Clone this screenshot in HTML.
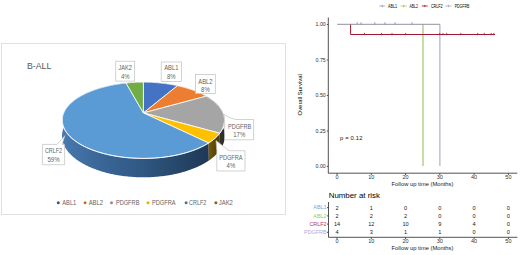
<!DOCTYPE html>
<html><head><meta charset="utf-8">
<style>
html,body{margin:0;padding:0;background:#fff;}
body{width:520px;height:255px;overflow:hidden;}
svg{display:block;}
text{font-family:"Liberation Sans",sans-serif;}
</style></head>
<body>
<svg width="520" height="255" viewBox="0 0 520 255">
<defs>
<linearGradient id="gCR" x1="62" y1="0" x2="210" y2="0" gradientUnits="userSpaceOnUse">
<stop offset="0" stop-color="#4878AE"/><stop offset="0.25" stop-color="#3A6797"/><stop offset="0.51" stop-color="#305A86"/><stop offset="0.74" stop-color="#284A6E"/><stop offset="1" stop-color="#1E3755"/>
</linearGradient>
<linearGradient id="gPA" x1="207" y1="0" x2="219" y2="0" gradientUnits="userSpaceOnUse">
<stop offset="0" stop-color="#7A5E08"/><stop offset="1" stop-color="#4E3C02"/>
</linearGradient>
<linearGradient id="gPB" x1="215" y1="0" x2="225" y2="0" gradientUnits="userSpaceOnUse">
<stop offset="0" stop-color="#3C3C3C"/><stop offset="1" stop-color="#2A2A2A"/>
</linearGradient>
</defs>
<rect x="0" y="0" width="520" height="255" fill="#fff"/>
<!-- pie chart frame -->
<rect x="1.5" y="43.5" width="284" height="171" fill="#fff" stroke="#E0E0E0" stroke-width="1"/>
<text x="26.9" y="69.4" font-size="8.8" fill="#595959" textLength="24.4" lengthAdjust="spacingAndGlyphs">B-ALL</text>
<g id="pie">
<polygon points="126.05,83.04 127.19,82.93 128.34,82.82 129.49,82.73 130.64,82.63 131.79,82.55 132.95,82.48 134.11,82.41 135.26,82.35 136.42,82.30 137.58,82.26 138.75,82.22 139.91,82.20 141.07,82.18 142.24,82.16 143.40,82.16 143.40,94.70 142.23,94.70 141.07,94.72 139.90,94.74 138.74,94.77 137.57,94.81 136.41,94.85 135.24,94.91 134.08,94.97 132.92,95.04 131.76,95.12 130.61,95.21 129.45,95.31 128.30,95.42 127.15,95.53 126.00,95.65" fill="#4E7A32"/>
<polygon points="143.40,82.16 144.56,82.16 145.73,82.18 146.89,82.20 148.05,82.22 149.22,82.26 150.38,82.30 151.54,82.35 152.69,82.41 153.85,82.48 155.01,82.55 156.16,82.63 157.31,82.73 158.46,82.82 159.61,82.93 160.75,83.04 161.90,83.16 163.03,83.29 164.17,83.43 165.30,83.58 166.43,83.73 167.56,83.89 168.68,84.06 169.79,84.23 170.91,84.42 172.02,84.61 173.12,84.81 174.22,85.02 175.31,85.23 176.40,85.46 177.48,85.69 177.57,98.51 176.48,98.27 175.39,98.02 174.30,97.79 173.19,97.57 172.09,97.35 170.98,97.14 169.86,96.94 168.74,96.75 167.62,96.57 166.49,96.40 165.36,96.23 164.22,96.07 163.08,95.93 161.94,95.79 160.80,95.65 159.65,95.53 158.50,95.42 157.35,95.31 156.19,95.21 155.04,95.12 153.88,95.04 152.72,94.97 151.56,94.91 150.39,94.85 149.23,94.81 148.06,94.77 146.90,94.74 145.73,94.72 144.57,94.70 143.40,94.70" fill="#2F4F88"/>
<polygon points="177.48,85.69 178.56,85.93 179.63,86.17 180.69,86.43 181.75,86.69 182.80,86.96 183.85,87.24 184.89,87.52 185.92,87.81 186.94,88.11 187.95,88.42 188.96,88.74 189.96,89.06 190.95,89.39 191.93,89.73 192.90,90.08 193.87,90.43 194.82,90.79 195.77,91.16 196.70,91.54 197.62,91.92 198.54,92.32 199.44,92.72 200.33,93.12 201.21,93.54 202.08,93.96 202.94,94.39 203.79,94.82 204.62,95.26 205.44,95.72 206.25,96.17 206.42,109.86 205.61,109.37 204.79,108.88 203.95,108.40 203.10,107.93 202.24,107.46 201.37,107.01 200.49,106.56 199.59,106.12 198.68,105.69 197.77,105.26 196.84,104.85 195.90,104.44 194.96,104.04 194.00,103.65 193.03,103.27 192.06,102.89 191.07,102.53 190.08,102.17 189.08,101.82 188.07,101.47 187.05,101.14 186.03,100.82 184.99,100.50 183.95,100.19 182.90,99.89 181.85,99.60 180.79,99.31 179.72,99.04 178.65,98.77 177.57,98.51" fill="#A65722"/>
<polygon points="206.25,96.17 207.04,96.64 207.82,97.11 208.59,97.59 209.34,98.07 210.08,98.57 210.81,99.06 211.52,99.57 212.21,100.08 212.89,100.60 213.55,101.13 214.20,101.66 214.83,102.20 215.44,102.75 216.04,103.30 216.62,103.86 217.18,104.42 217.72,104.99 218.25,105.57 218.75,106.15 219.24,106.74 219.71,107.33 220.16,107.93 220.58,108.53 220.99,109.14 221.38,109.75 221.75,110.37 222.09,111.00 222.42,111.63 222.72,112.26 223.00,112.90 223.26,113.54 223.49,114.19 223.71,114.84 223.89,115.49 224.06,116.15 224.20,116.82 224.32,117.48 224.41,118.15 224.48,118.82 224.52,119.49 224.54,120.17 224.53,120.85 224.49,121.53 224.43,122.21 224.35,122.90 224.23,123.59 224.09,124.27 223.93,124.96 223.73,125.65 223.51,126.34 223.26,127.03 222.98,127.72 222.67,128.41 222.34,129.10 221.98,129.79 221.58,130.48 221.16,131.17 220.72,131.85 220.24,132.53 219.73,133.22 219.98,149.97 220.49,149.24 220.97,148.49 221.42,147.75 221.84,147.01 222.23,146.26 222.60,145.52 222.93,144.77 223.24,144.02 223.51,143.27 223.76,142.53 223.99,141.78 224.18,141.03 224.35,140.29 224.49,139.54 224.60,138.80 224.69,138.05 224.75,137.31 224.78,136.58 224.79,135.84 224.77,135.11 224.73,134.38 224.66,133.65 224.57,132.93 224.45,132.21 224.30,131.49 224.14,130.78 223.95,130.07 223.73,129.36 223.50,128.66 223.24,127.97 222.96,127.28 222.65,126.59 222.33,125.91 221.98,125.23 221.61,124.56 221.22,123.90 220.81,123.24 220.38,122.58 219.93,121.94 219.46,121.29 218.97,120.66 218.46,120.03 217.93,119.40 217.39,118.79 216.82,118.18 216.24,117.57 215.64,116.98 215.03,116.39 214.40,115.80 213.75,115.23 213.08,114.66 212.40,114.09 211.70,113.54 210.99,112.99 210.27,112.45 209.52,111.92 208.77,111.39 208.00,110.87 207.22,110.36 206.42,109.86" fill="url(#gPB)"/>
<polygon points="208.62,142.97 207.65,143.57 206.65,144.17 205.62,144.76 204.57,145.34 203.48,145.91 202.37,146.47 201.24,147.03 200.07,147.57 198.89,148.11 197.67,148.63 196.43,149.14 195.16,149.65 193.88,150.14 192.56,150.62 191.22,151.09 189.86,151.54 188.48,151.99 187.08,152.42 185.65,152.84 184.21,153.24 182.74,153.63 181.25,154.01 179.75,154.37 178.23,154.72 176.69,155.06 175.13,155.38 173.55,155.68 171.97,155.97 170.36,156.25 168.75,156.51 167.12,156.75 165.47,156.98 163.82,157.19 162.16,157.38 160.48,157.56 158.80,157.72 157.11,157.87 155.41,157.99 153.71,158.11 152.00,158.20 150.28,158.28 148.57,158.34 146.85,158.38 145.12,158.41 143.40,158.41 141.68,158.41 139.95,158.38 138.23,158.34 136.52,158.28 134.80,158.20 133.09,158.11 131.39,157.99 129.69,157.87 128.00,157.72 126.32,157.56 124.64,157.38 122.98,157.19 121.33,156.98 119.68,156.75 118.05,156.51 116.44,156.25 114.83,155.97 113.25,155.68 111.67,155.38 110.11,155.06 108.57,154.72 107.05,154.37 105.55,154.01 104.06,153.63 102.59,153.24 101.15,152.84 99.72,152.42 98.32,151.99 96.94,151.54 95.58,151.09 94.24,150.62 92.92,150.14 91.64,149.65 90.37,149.14 89.13,148.63 87.91,148.11 86.73,147.57 85.56,147.03 84.43,146.47 83.32,145.91 82.23,145.34 81.18,144.76 80.15,144.17 79.15,143.57 78.18,142.97 77.24,142.36 76.32,141.74 75.43,141.11 74.58,140.48 73.75,139.84 72.95,139.20 72.18,138.55 71.44,137.90 70.73,137.24 70.04,136.58 69.39,135.91 68.77,135.24 68.17,134.57 67.61,133.89 67.07,133.22 66.56,132.53 66.08,131.85 65.64,131.17 65.22,130.48 64.82,129.79 64.46,129.10 64.13,128.41 63.82,127.72 63.54,127.03 63.29,126.34 63.07,125.65 62.87,124.96 62.71,124.27 62.57,123.59 62.45,122.90 62.37,122.21 62.31,121.53 62.27,120.85 62.26,120.17 62.28,119.49 62.32,118.82 62.39,118.15 62.48,117.48 62.60,116.82 62.74,116.15 62.91,115.49 63.09,114.84 63.31,114.19 63.54,113.54 63.80,112.90 64.08,112.26 64.38,111.63 64.71,111.00 65.05,110.37 65.42,109.75 65.81,109.14 66.22,108.53 66.64,107.93 67.09,107.33 67.56,106.74 68.05,106.15 68.55,105.57 69.08,104.99 69.62,104.42 70.18,103.86 70.76,103.30 71.36,102.75 71.97,102.20 72.60,101.66 73.25,101.13 73.91,100.60 74.59,100.08 75.28,99.57 75.99,99.06 76.72,98.57 77.46,98.07 78.21,97.59 78.98,97.11 79.76,96.64 80.55,96.17 81.36,95.72 82.18,95.26 83.01,94.82 83.86,94.39 84.72,93.96 85.59,93.54 86.47,93.12 87.36,92.72 88.26,92.32 89.18,91.92 90.10,91.54 91.03,91.16 91.98,90.79 92.93,90.43 93.90,90.08 94.87,89.73 95.85,89.39 96.84,89.06 97.84,88.74 98.85,88.42 99.86,88.11 100.88,87.81 101.91,87.52 102.95,87.24 104.00,86.96 105.05,86.69 106.11,86.43 107.17,86.17 108.24,85.93 109.32,85.69 110.40,85.46 111.49,85.23 112.58,85.02 113.68,84.81 114.78,84.61 115.89,84.42 117.01,84.23 118.12,84.06 119.24,83.89 120.37,83.73 121.50,83.58 122.63,83.43 123.77,83.29 124.90,83.16 126.05,83.04 126.00,95.65 124.86,95.79 123.72,95.93 122.58,96.07 121.44,96.23 120.31,96.40 119.18,96.57 118.06,96.75 116.94,96.94 115.82,97.14 114.71,97.35 113.61,97.57 112.50,97.79 111.41,98.02 110.32,98.27 109.23,98.51 108.15,98.77 107.08,99.04 106.01,99.31 104.95,99.60 103.90,99.89 102.85,100.19 101.81,100.50 100.77,100.82 99.75,101.14 98.73,101.47 97.72,101.82 96.72,102.17 95.73,102.53 94.74,102.89 93.77,103.27 92.80,103.65 91.84,104.04 90.90,104.44 89.96,104.85 89.03,105.26 88.12,105.69 87.21,106.12 86.31,106.56 85.43,107.01 84.56,107.46 83.70,107.93 82.85,108.40 82.01,108.88 81.19,109.37 80.38,109.86 79.58,110.36 78.80,110.87 78.03,111.39 77.28,111.92 76.53,112.45 75.81,112.99 75.10,113.54 74.40,114.09 73.72,114.66 73.05,115.23 72.40,115.80 71.77,116.39 71.16,116.98 70.56,117.57 69.98,118.18 69.41,118.79 68.87,119.40 68.34,120.03 67.83,120.66 67.34,121.29 66.87,121.94 66.42,122.58 65.99,123.24 65.58,123.90 65.19,124.56 64.82,125.23 64.47,125.91 64.15,126.59 63.84,127.28 63.56,127.97 63.30,128.66 63.07,129.36 62.85,130.07 62.66,130.78 62.50,131.49 62.35,132.21 62.23,132.93 62.14,133.65 62.07,134.38 62.03,135.11 62.01,135.84 62.02,136.58 62.05,137.31 62.11,138.05 62.20,138.80 62.31,139.54 62.45,140.29 62.62,141.03 62.81,141.78 63.04,142.53 63.29,143.27 63.56,144.02 63.87,144.77 64.20,145.52 64.57,146.26 64.96,147.01 65.38,147.75 65.83,148.49 66.31,149.24 66.82,149.97 67.35,150.71 67.92,151.44 68.52,152.17 69.14,152.90 69.80,153.62 70.48,154.33 71.19,155.05 71.94,155.76 72.71,156.46 73.51,157.15 74.34,157.85 75.20,158.53 76.09,159.21 77.01,159.88 77.95,160.54 78.93,161.20 79.93,161.84 80.96,162.48 82.02,163.11 83.10,163.73 84.22,164.34 85.36,164.94 86.53,165.53 87.72,166.11 88.94,166.68 90.18,167.24 91.45,167.78 92.74,168.31 94.06,168.83 95.40,169.34 96.77,169.84 98.15,170.32 99.56,170.79 100.99,171.24 102.45,171.68 103.92,172.10 105.41,172.51 106.92,172.91 108.45,173.28 109.99,173.65 111.56,173.99 113.13,174.33 114.73,174.64 116.34,174.94 117.96,175.22 119.60,175.48 121.25,175.73 122.90,175.96 124.58,176.17 126.25,176.36 127.94,176.53 129.64,176.69 131.34,176.83 133.06,176.95 134.77,177.05 136.49,177.14 138.22,177.20 139.94,177.25 141.67,177.28 143.40,177.29 145.13,177.28 146.86,177.25 148.58,177.20 150.31,177.14 152.03,177.05 153.74,176.95 155.46,176.83 157.16,176.69 158.86,176.53 160.55,176.36 162.22,176.17 163.90,175.96 165.55,175.73 167.20,175.48 168.84,175.22 170.46,174.94 172.07,174.64 173.67,174.33 175.24,173.99 176.81,173.65 178.35,173.28 179.88,172.91 181.39,172.51 182.88,172.10 184.35,171.68 185.81,171.24 187.24,170.79 188.65,170.32 190.03,169.84 191.40,169.34 192.74,168.83 194.06,168.31 195.35,167.78 196.62,167.24 197.86,166.68 199.08,166.11 200.27,165.53 201.44,164.94 202.58,164.34 203.70,163.73 204.78,163.11 205.84,162.48 206.87,161.84 207.87,161.20 208.85,160.54" fill="url(#gCR)"/>
<polygon points="219.73,133.22 219.19,133.89 218.63,134.57 218.03,135.24 217.41,135.91 216.76,136.58 216.07,137.24 215.36,137.90 214.62,138.55 213.85,139.20 213.05,139.84 212.22,140.48 211.37,141.11 210.48,141.74 209.56,142.36 208.62,142.97 208.85,160.54 209.79,159.88 210.71,159.21 211.60,158.53 212.46,157.85 213.29,157.15 214.09,156.46 214.86,155.76 215.61,155.05 216.32,154.33 217.00,153.62 217.66,152.90 218.28,152.17 218.88,151.44 219.45,150.71 219.98,149.97" fill="url(#gPA)"/>
<polygon points="143.40,112.90 143.40,82.16 144.56,82.16 145.73,82.18 146.89,82.20 148.05,82.22 149.22,82.26 150.38,82.30 151.54,82.35 152.69,82.41 153.85,82.48 155.01,82.55 156.16,82.63 157.31,82.73 158.46,82.82 159.61,82.93 160.75,83.04 161.90,83.16 163.03,83.29 164.17,83.43 165.30,83.58 166.43,83.73 167.56,83.89 168.68,84.06 169.79,84.23 170.91,84.42 172.02,84.61 173.12,84.81 174.22,85.02 175.31,85.23 176.40,85.46 177.48,85.69" fill="#4472C4" stroke="#fff" stroke-width="0.8" stroke-linejoin="round"/>
<polygon points="143.40,112.90 177.48,85.69 178.56,85.93 179.63,86.17 180.69,86.43 181.75,86.69 182.80,86.96 183.85,87.24 184.89,87.52 185.92,87.81 186.94,88.11 187.95,88.42 188.96,88.74 189.96,89.06 190.95,89.39 191.93,89.73 192.90,90.08 193.87,90.43 194.82,90.79 195.77,91.16 196.70,91.54 197.62,91.92 198.54,92.32 199.44,92.72 200.33,93.12 201.21,93.54 202.08,93.96 202.94,94.39 203.79,94.82 204.62,95.26 205.44,95.72 206.25,96.17" fill="#ED7D31" stroke="#fff" stroke-width="0.8" stroke-linejoin="round"/>
<polygon points="143.40,112.90 206.25,96.17 207.04,96.64 207.82,97.11 208.59,97.59 209.34,98.07 210.08,98.57 210.81,99.06 211.52,99.57 212.21,100.08 212.89,100.60 213.55,101.13 214.20,101.66 214.83,102.20 215.44,102.75 216.04,103.30 216.62,103.86 217.18,104.42 217.72,104.99 218.25,105.57 218.75,106.15 219.24,106.74 219.71,107.33 220.16,107.93 220.58,108.53 220.99,109.14 221.38,109.75 221.75,110.37 222.09,111.00 222.42,111.63 222.72,112.26 223.00,112.90 223.26,113.54 223.49,114.19 223.71,114.84 223.89,115.49 224.06,116.15 224.20,116.82 224.32,117.48 224.41,118.15 224.48,118.82 224.52,119.49 224.54,120.17 224.53,120.85 224.49,121.53 224.43,122.21 224.35,122.90 224.23,123.59 224.09,124.27 223.93,124.96 223.73,125.65 223.51,126.34 223.26,127.03 222.98,127.72 222.67,128.41 222.34,129.10 221.98,129.79 221.58,130.48 221.16,131.17 220.72,131.85 220.24,132.53 219.73,133.22" fill="#A5A5A5" stroke="#fff" stroke-width="0.8" stroke-linejoin="round"/>
<polygon points="143.40,112.90 219.73,133.22 219.19,133.89 218.63,134.57 218.03,135.24 217.41,135.91 216.76,136.58 216.07,137.24 215.36,137.90 214.62,138.55 213.85,139.20 213.05,139.84 212.22,140.48 211.37,141.11 210.48,141.74 209.56,142.36 208.62,142.97" fill="#FFC000" stroke="#fff" stroke-width="0.8" stroke-linejoin="round"/>
<polygon points="143.40,112.90 208.62,142.97 207.65,143.57 206.65,144.17 205.62,144.76 204.57,145.34 203.48,145.91 202.37,146.47 201.24,147.03 200.07,147.57 198.89,148.11 197.67,148.63 196.43,149.14 195.16,149.65 193.88,150.14 192.56,150.62 191.22,151.09 189.86,151.54 188.48,151.99 187.08,152.42 185.65,152.84 184.21,153.24 182.74,153.63 181.25,154.01 179.75,154.37 178.23,154.72 176.69,155.06 175.13,155.38 173.55,155.68 171.97,155.97 170.36,156.25 168.75,156.51 167.12,156.75 165.47,156.98 163.82,157.19 162.16,157.38 160.48,157.56 158.80,157.72 157.11,157.87 155.41,157.99 153.71,158.11 152.00,158.20 150.28,158.28 148.57,158.34 146.85,158.38 145.12,158.41 143.40,158.41 141.68,158.41 139.95,158.38 138.23,158.34 136.52,158.28 134.80,158.20 133.09,158.11 131.39,157.99 129.69,157.87 128.00,157.72 126.32,157.56 124.64,157.38 122.98,157.19 121.33,156.98 119.68,156.75 118.05,156.51 116.44,156.25 114.83,155.97 113.25,155.68 111.67,155.38 110.11,155.06 108.57,154.72 107.05,154.37 105.55,154.01 104.06,153.63 102.59,153.24 101.15,152.84 99.72,152.42 98.32,151.99 96.94,151.54 95.58,151.09 94.24,150.62 92.92,150.14 91.64,149.65 90.37,149.14 89.13,148.63 87.91,148.11 86.73,147.57 85.56,147.03 84.43,146.47 83.32,145.91 82.23,145.34 81.18,144.76 80.15,144.17 79.15,143.57 78.18,142.97 77.24,142.36 76.32,141.74 75.43,141.11 74.58,140.48 73.75,139.84 72.95,139.20 72.18,138.55 71.44,137.90 70.73,137.24 70.04,136.58 69.39,135.91 68.77,135.24 68.17,134.57 67.61,133.89 67.07,133.22 66.56,132.53 66.08,131.85 65.64,131.17 65.22,130.48 64.82,129.79 64.46,129.10 64.13,128.41 63.82,127.72 63.54,127.03 63.29,126.34 63.07,125.65 62.87,124.96 62.71,124.27 62.57,123.59 62.45,122.90 62.37,122.21 62.31,121.53 62.27,120.85 62.26,120.17 62.28,119.49 62.32,118.82 62.39,118.15 62.48,117.48 62.60,116.82 62.74,116.15 62.91,115.49 63.09,114.84 63.31,114.19 63.54,113.54 63.80,112.90 64.08,112.26 64.38,111.63 64.71,111.00 65.05,110.37 65.42,109.75 65.81,109.14 66.22,108.53 66.64,107.93 67.09,107.33 67.56,106.74 68.05,106.15 68.55,105.57 69.08,104.99 69.62,104.42 70.18,103.86 70.76,103.30 71.36,102.75 71.97,102.20 72.60,101.66 73.25,101.13 73.91,100.60 74.59,100.08 75.28,99.57 75.99,99.06 76.72,98.57 77.46,98.07 78.21,97.59 78.98,97.11 79.76,96.64 80.55,96.17 81.36,95.72 82.18,95.26 83.01,94.82 83.86,94.39 84.72,93.96 85.59,93.54 86.47,93.12 87.36,92.72 88.26,92.32 89.18,91.92 90.10,91.54 91.03,91.16 91.98,90.79 92.93,90.43 93.90,90.08 94.87,89.73 95.85,89.39 96.84,89.06 97.84,88.74 98.85,88.42 99.86,88.11 100.88,87.81 101.91,87.52 102.95,87.24 104.00,86.96 105.05,86.69 106.11,86.43 107.17,86.17 108.24,85.93 109.32,85.69 110.40,85.46 111.49,85.23 112.58,85.02 113.68,84.81 114.78,84.61 115.89,84.42 117.01,84.23 118.12,84.06 119.24,83.89 120.37,83.73 121.50,83.58 122.63,83.43 123.77,83.29 124.90,83.16 126.05,83.04" fill="#5B9BD5" stroke="#fff" stroke-width="0.8" stroke-linejoin="round"/>
<polygon points="143.40,112.90 126.05,83.04 127.19,82.93 128.34,82.82 129.49,82.73 130.64,82.63 131.79,82.55 132.95,82.48 134.11,82.41 135.26,82.35 136.42,82.30 137.58,82.26 138.75,82.22 139.91,82.20 141.07,82.18 142.24,82.16 143.40,82.16" fill="#70AD47" stroke="#fff" stroke-width="0.8" stroke-linejoin="round"/>
<polyline points="224.52,119.49 224.54,120.17 224.53,120.85 224.49,121.53 224.43,122.21 224.35,122.90 224.23,123.59 224.09,124.27 223.93,124.96 223.73,125.65 223.51,126.34 223.26,127.03 222.98,127.72 222.67,128.41 222.34,129.10 221.98,129.79 221.58,130.48 221.16,131.17 220.72,131.85 220.24,132.53 219.73,133.22 219.19,133.89 218.63,134.57 218.03,135.24 217.41,135.91 216.76,136.58 216.07,137.24 215.36,137.90 214.62,138.55 213.85,139.20 213.05,139.84 212.22,140.48 211.37,141.11 210.48,141.74 209.56,142.36 208.62,142.97 207.65,143.57 206.65,144.17 205.62,144.76 204.57,145.34 203.48,145.91 202.37,146.47 201.24,147.03 200.07,147.57 198.89,148.11 197.67,148.63 196.43,149.14 195.16,149.65 193.88,150.14 192.56,150.62 191.22,151.09 189.86,151.54 188.48,151.99 187.08,152.42 185.65,152.84 184.21,153.24 182.74,153.63 181.25,154.01 179.75,154.37 178.23,154.72 176.69,155.06 175.13,155.38 173.55,155.68 171.97,155.97 170.36,156.25 168.75,156.51 167.12,156.75 165.47,156.98 163.82,157.19 162.16,157.38 160.48,157.56 158.80,157.72 157.11,157.87 155.41,157.99 153.71,158.11 152.00,158.20 150.28,158.28 148.57,158.34 146.85,158.38 145.12,158.41 143.40,158.41 141.68,158.41 139.95,158.38 138.23,158.34 136.52,158.28 134.80,158.20 133.09,158.11 131.39,157.99 129.69,157.87 128.00,157.72 126.32,157.56 124.64,157.38 122.98,157.19 121.33,156.98 119.68,156.75 118.05,156.51 116.44,156.25 114.83,155.97 113.25,155.68 111.67,155.38 110.11,155.06 108.57,154.72 107.05,154.37 105.55,154.01 104.06,153.63 102.59,153.24 101.15,152.84 99.72,152.42 98.32,151.99 96.94,151.54 95.58,151.09 94.24,150.62 92.92,150.14 91.64,149.65 90.37,149.14 89.13,148.63 87.91,148.11 86.73,147.57 85.56,147.03 84.43,146.47 83.32,145.91 82.23,145.34 81.18,144.76 80.15,144.17 79.15,143.57 78.18,142.97 77.24,142.36 76.32,141.74 75.43,141.11 74.58,140.48 73.75,139.84 72.95,139.20 72.18,138.55 71.44,137.90 70.73,137.24 70.04,136.58 69.39,135.91 68.77,135.24 68.17,134.57 67.61,133.89 67.07,133.22 66.56,132.53 66.08,131.85 65.64,131.17 65.22,130.48 64.82,129.79 64.46,129.10 64.13,128.41 63.82,127.72 63.54,127.03 63.29,126.34 63.07,125.65 62.87,124.96 62.71,124.27 62.57,123.59 62.45,122.90 62.37,122.21 62.31,121.53 62.27,120.85 62.26,120.17 62.28,119.49 62.32,118.82 62.39,118.15" fill="none" stroke="#FFFFFF" stroke-opacity="0.7" stroke-width="1" stroke-linecap="round"/>
</g>
<!-- data label callouts -->
<g fill="#fff" stroke="#BFBFBF" stroke-width="0.7">
<rect x="115.8" y="61.2" width="18.9" height="19.9"/>
<rect x="161.2" y="62" width="20.3" height="19.5"/>
<rect x="195.5" y="74.6" width="19.8" height="19"/>
<path d="M224.6,119.5 L223.8,114.4 Q229,118.2 236,119.5 L253.6,119.5 L253.6,139.8 L224.6,139.8 Z"/>
<path d="M216.8,150.7 L216,140.6 L229,150.7 L245,150.7 L245,171 L216.8,171 Z"/>
<path d="M42.4,144.4 L57,144.4 L65,135.6 L62,144.4 L64.6,144.4 L64.6,164.7 L42.4,164.7 Z"/>
</g>
<g fill="#636363" font-size="7.2" text-anchor="middle" lengthAdjust="spacingAndGlyphs">
<text x="125.25" y="69.6" textLength="13.5" lengthAdjust="spacingAndGlyphs">JAK2</text><text x="125.25" y="78.6" textLength="8.6" lengthAdjust="spacingAndGlyphs">4%</text>
<text x="171.35" y="70.1" textLength="14.3" lengthAdjust="spacingAndGlyphs">ABL1</text><text x="171.35" y="79.3" textLength="8.6" lengthAdjust="spacingAndGlyphs">8%</text>
<text x="205.4" y="83.6" textLength="14.3" lengthAdjust="spacingAndGlyphs">ABL2</text><text x="205.4" y="91.6" textLength="8.6" lengthAdjust="spacingAndGlyphs">8%</text>
<text x="239.6" y="128.6" textLength="23.2" lengthAdjust="spacingAndGlyphs">PDGFRB</text><text x="239.3" y="137" textLength="12.1" lengthAdjust="spacingAndGlyphs">17%</text>
<text x="230.9" y="159.7" textLength="23.4" lengthAdjust="spacingAndGlyphs">PDGFRA</text><text x="230.9" y="167.9" textLength="8.6" lengthAdjust="spacingAndGlyphs">4%</text>
<text x="53.5" y="153.4" textLength="17.2" lengthAdjust="spacingAndGlyphs">CRLF2</text><text x="53.5" y="161.7" textLength="12.1" lengthAdjust="spacingAndGlyphs">59%</text>
</g>
<!-- pie legend -->
<g font-size="7" fill="#636363">
<circle cx="58.3" cy="202.8" r="1.5" fill="#34549A"/><text x="62.3" y="205.2" textLength="14" lengthAdjust="spacingAndGlyphs">ABL1</text>
<circle cx="85.1" cy="202.8" r="1.5" fill="#D06A28"/><text x="88.7" y="205.2" textLength="14.4" lengthAdjust="spacingAndGlyphs">ABL2</text>
<circle cx="111.5" cy="202.8" r="1.5" fill="#8C8C8C"/><text x="115.9" y="205.2" textLength="23.5" lengthAdjust="spacingAndGlyphs">PDGFRB</text>
<circle cx="148.0" cy="202.8" r="1.5" fill="#E8B000"/><text x="151.9" y="205.2" textLength="23.7" lengthAdjust="spacingAndGlyphs">PDGFRA</text>
<circle cx="186.1" cy="202.8" r="1.5" fill="#46729E"/><text x="189" y="205.2" textLength="17.3" lengthAdjust="spacingAndGlyphs">CRLF2</text>
<circle cx="215.9" cy="202.8" r="1.5" fill="#6A6A2A"/><text x="218.8" y="205.2" textLength="14.1" lengthAdjust="spacingAndGlyphs">JAK2</text>
</g>

<!-- ============ KM plot ============ -->
<g font-size="4.7" fill="#000">
<line x1="379.3" y1="6" x2="385.1" y2="6" stroke="#8FB1DA" stroke-width="0.9"/><path d="M382.2,4.9 V7.1" stroke="#6E7FA0" stroke-width="0.7"/><text x="388" y="7.5" textLength="9" lengthAdjust="spacingAndGlyphs">ABL1</text>
<line x1="400.5" y1="6" x2="407" y2="6" stroke="#B7D27A" stroke-width="0.9"/><path d="M403.7,4.9 V7.1" stroke="#8FA45A" stroke-width="0.7"/><text x="409.6" y="7.5" textLength="8.2" lengthAdjust="spacingAndGlyphs">ABL2</text>
<line x1="421.9" y1="6" x2="427.7" y2="6" stroke="#B2182B" stroke-width="0.9"/><path d="M424.8,4.9 V7.1" stroke="#8A1020" stroke-width="0.7"/><text x="430.9" y="7.5" textLength="11.8" lengthAdjust="spacingAndGlyphs">CRLF2</text>
<line x1="445.2" y1="6" x2="451.7" y2="6" stroke="#BCB5D6" stroke-width="0.9"/><path d="M448.4,4.9 V7.1" stroke="#8F8AA8" stroke-width="0.7"/><text x="454.8" y="7.5" textLength="14.4" lengthAdjust="spacingAndGlyphs">PDGFRB</text>
</g>
<!-- axes -->
<g stroke="#404040" stroke-width="0.9" fill="none">
<path d="M328.3,17.5 V173.2 H517.3"/>
<path d="M326.8,24.5 H328.3 M326.8,60 H328.3 M326.8,95.5 H328.3 M326.8,131 H328.3 M326.8,166.4 H328.3"/>
<path d="M337,173.2 V175 M371.3,173.2 V175 M405.6,173.2 V175 M439.8,173.2 V175 M474.1,173.2 V175 M508.4,173.2 V175"/>
</g>
<g font-size="5.2" fill="#303030" text-anchor="end">
<text x="325.7" y="26.3">1.00</text><text x="325.7" y="61.8">0.75</text><text x="325.7" y="97.3">0.50</text><text x="325.7" y="132.8">0.25</text><text x="325.7" y="168.2">0.00</text>
</g>
<g font-size="5.5" fill="#303030" text-anchor="middle">
<text x="337" y="178.9">0</text><text x="371.3" y="178.9">10</text><text x="405.6" y="178.9">20</text><text x="439.8" y="178.9">30</text><text x="474.1" y="178.9">40</text><text x="508.4" y="178.9">50</text>
</g>
<text x="422.5" y="185.9" font-size="5.8" fill="#222" text-anchor="middle">Follow up time (Months)</text>
<text transform="translate(302,94.8) rotate(-90)" font-size="5.9" fill="#000" text-anchor="middle">Overall Survival</text>
<text x="339.9" y="140.4" font-size="5.8" fill="#111" textLength="22.6" lengthAdjust="spacing">p = 0.12</text>
<!-- curves -->
<g fill="none" stroke-width="0.9">
<path d="M423,24.5 V166" stroke="#A3C766" stroke-width="1.2"/>
<path d="M439.9,24.5 V166" stroke="#ABA7C2" stroke-width="1.1"/>
<path d="M350.6,24.3 V34.5 H495" stroke="#A3172E" stroke-width="1"/>
<path d="M337.2,24.3 H439.9" stroke="#7E7A94" stroke-width="0.85"/>
</g>
<g stroke="#85819C" stroke-width="0.8">
<path d="M357.2,22.3 V24.5 M361,22.3 V24.5 M374.8,22.3 V24.5 M384.9,22.3 V24.5 M395.1,22.3 V24.5 M412.1,22.3 V24.5"/>
</g>
<g stroke="#A3172E" stroke-width="0.8">
<path d="M364.5,32.9 V35.2 M381.5,32.9 V35.2 M392,32.9 V35.2 M405.6,32.9 V35.2 M439.7,32.9 V35.2 M443,32.9 V35.2 M446.7,32.9 V35.2 M460.8,32.9 V35.2 M477.7,32.9 V35.2 M484.3,32.9 V35.2 M491.1,32.9 V35.2 M493.8,32.9 V35.2"/>
</g>
<!-- number at risk -->
<text x="328.7" y="198" font-size="7.9" fill="#000">Number at risk</text>
<g stroke="#404040" stroke-width="0.9" fill="none">
<path d="M328.5,202 V237.3 H517.3"/>
<path d="M327,207.6 H328.5 M327,215.9 H328.5 M327,224.1 H328.5 M327,232.3 H328.5"/>
<path d="M337,237.3 V239.1 M371.3,237.3 V239.1 M405.6,237.3 V239.1 M439.8,237.3 V239.1 M474.1,237.3 V239.1 M508.4,237.3 V239.1"/>
</g>
<g font-size="5.4" text-anchor="end">
<text x="326.5" y="209.4" fill="#7BA3D6">ABL1</text>
<text x="326.5" y="217.7" fill="#A4C752">ABL2</text>
<text x="326.5" y="225.9" fill="#B8305C">CRLF2</text>
<text x="326.5" y="234.1" fill="#B0A6DA">PDGFRB</text>
</g>
<g font-size="5.6" fill="#1A1A1A" text-anchor="middle">
<text x="337" y="209.6">2</text><text x="371.3" y="209.6">1</text><text x="405.6" y="209.6">0</text><text x="439.8" y="209.6">0</text><text x="474.1" y="209.6">0</text><text x="508.4" y="209.6">0</text>
<text x="337" y="217.9">2</text><text x="371.3" y="217.9">2</text><text x="405.6" y="217.9">2</text><text x="439.8" y="217.9">0</text><text x="474.1" y="217.9">0</text><text x="508.4" y="217.9">0</text>
<text x="337" y="226.1">14</text><text x="371.3" y="226.1">12</text><text x="405.6" y="226.1">10</text><text x="439.8" y="226.1">9</text><text x="474.1" y="226.1">4</text><text x="508.4" y="226.1">0</text>
<text x="337" y="234.3">4</text><text x="371.3" y="234.3">3</text><text x="405.6" y="234.3">1</text><text x="439.8" y="234.3">1</text><text x="474.1" y="234.3">0</text><text x="508.4" y="234.3">0</text>
</g>
<g font-size="5.5" fill="#303030" text-anchor="middle">
<text x="337" y="243.1">0</text><text x="371.3" y="243.1">10</text><text x="405.6" y="243.1">20</text><text x="439.8" y="243.1">30</text><text x="474.1" y="243.1">40</text><text x="508.4" y="243.1">50</text>
</g>
<text x="422.5" y="250.2" font-size="5.8" fill="#222" text-anchor="middle">Follow up time (Months)</text>
</svg>
</body></html>
